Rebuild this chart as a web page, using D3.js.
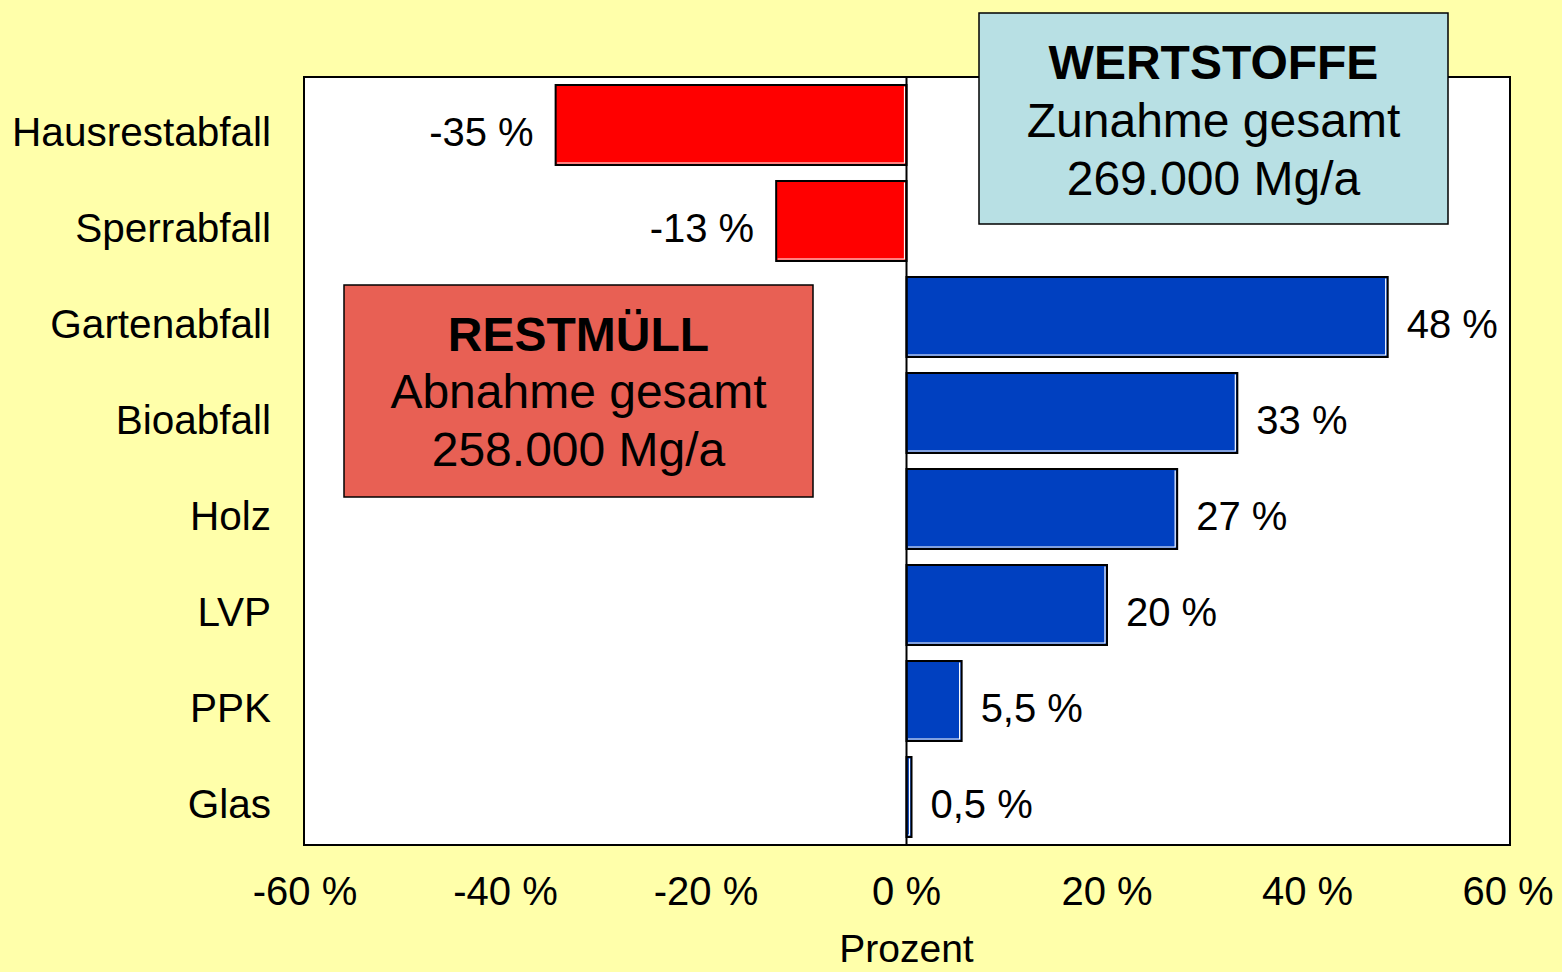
<!DOCTYPE html>
<html>
<head>
<meta charset="utf-8">
<script src="https://cdn.jsdelivr.net/npm/d3@7"></script>
<style>
  html, body { margin: 0; padding: 0; background: #FFFFAA; }
  svg { display: block; }
  text { font-family: "Liberation Sans", Arial, sans-serif; fill: #000; }
</style>
</head>
<body>
<svg id="chart" width="1562" height="972"></svg>
<script>
// Change of waste quantities per fraction (percent)
const categories = ["Hausrestabfall", "Sperrabfall", "Gartenabfall", "Bioabfall", "Holz", "LVP", "PPK", "Glas"];
const values = [-35, -13, 48, 33, 27, 20, 5.5, 0.5];
const tickValues = [-60, -40, -20, 0, 20, 40, 60];
const axisTitle = "Prozent";

// Summary boxes
const restmuellLines = ["RESTMÜLL", "Abnahme gesamt", "258.000 Mg/a"];
const wertstoffeLines = ["WERTSTOFFE", "Zunahme gesamt", "269.000 Mg/a"];

const fmtPct = v => String(v).replace(".", ",") + " %";

const svg = d3.select("#chart");
const W = 1562, H = 972;

svg.append("rect").attr("width", W).attr("height", H).attr("fill", "#FFFFAA");

const plot = { left: 304, right: 1510, top: 77, bottom: 845 };

const x = d3.scaleLinear().domain([-60, 60]).range([305, 1508]);
const y = d3.scaleBand().domain(categories)
  .range([plot.top, plot.bottom])
  .paddingInner(0.1667).paddingOuter(0.0833);

// plot area
svg.append("rect")
  .attr("x", plot.left).attr("y", plot.top)
  .attr("width", plot.right - plot.left).attr("height", plot.bottom - plot.top)
  .attr("fill", "#fff").attr("stroke", "#000").attr("stroke-width", 2);

const data = categories.map((c, i) => ({ c, v: values[i] }));

// bars
const bars = svg.append("g");
data.forEach(d => {
  const x0 = Math.min(x(0), x(d.v)), x1 = Math.max(x(0), x(d.v));
  const y0 = y(d.c), h = y.bandwidth();
  bars.append("rect")
    .attr("x", x0).attr("y", y0).attr("width", x1 - x0).attr("height", h)
    .attr("fill", d.v < 0 ? "#FF0000" : "#0040C0")
    .attr("stroke", "#000").attr("stroke-width", 2);
  // light inner edge on bottom and right side
  bars.append("polyline")
    .attr("points", `${x0 + 1.5},${y0 + h - 2} ${x1 - 2},${y0 + h - 2} ${x1 - 2},${y0 + 1.5}`)
    .attr("fill", "none").attr("stroke", "#fff").attr("stroke-width", 1.2);
});

// zero line
svg.append("line")
  .attr("x1", x(0)).attr("x2", x(0))
  .attr("y1", plot.top).attr("y2", plot.bottom)
  .attr("stroke", "#000").attr("stroke-width", 2);

// value labels
svg.append("g").selectAll("text").data(data).join("text")
  .attr("x", d => d.v < 0 ? x(d.v) - 22 : x(d.v) + 19)
  .attr("y", d => y(d.c) + y.bandwidth() / 2 + 21)
  .attr("text-anchor", d => d.v < 0 ? "end" : "start")
  .attr("font-size", 40)
  .text(d => fmtPct(d.v));

// category labels
svg.append("g").selectAll("text").data(categories).join("text")
  .attr("x", 271)
  .attr("y", c => y(c) + y.bandwidth() / 2 + 21)
  .attr("text-anchor", "end")
  .attr("font-size", 40.5)
  .text(c => c);

// x axis tick labels
svg.append("g").selectAll("text").data(tickValues).join("text")
  .attr("x", v => x(v))
  .attr("y", 905)
  .attr("text-anchor", "middle")
  .attr("font-size", 40)
  .text(v => v + " %");

svg.append("text")
  .attr("x", x(0)).attr("y", 962)
  .attr("text-anchor", "middle")
  .attr("font-size", 39)
  .text(axisTitle);

// summary boxes
function box(bx, by, bw, bh, fill, lines, baselines) {
  const g = svg.append("g");
  g.append("rect").attr("x", bx).attr("y", by).attr("width", bw).attr("height", bh)
    .attr("fill", fill).attr("stroke", "#000").attr("stroke-width", 1.5);
  lines.forEach((t, i) => {
    g.append("text")
      .attr("x", bx + bw / 2).attr("y", baselines[i])
      .attr("text-anchor", "middle")
      .attr("font-size", 48)
      .attr("font-weight", i === 0 ? "bold" : "normal")
      .text(t);
  });
}
box(344, 285, 469, 212, "#E86054", restmuellLines, [351, 408, 466]);
box(979, 13, 469, 211, "#B8E0E4", wertstoffeLines, [79, 137, 195]);
</script>
</body>
</html>
